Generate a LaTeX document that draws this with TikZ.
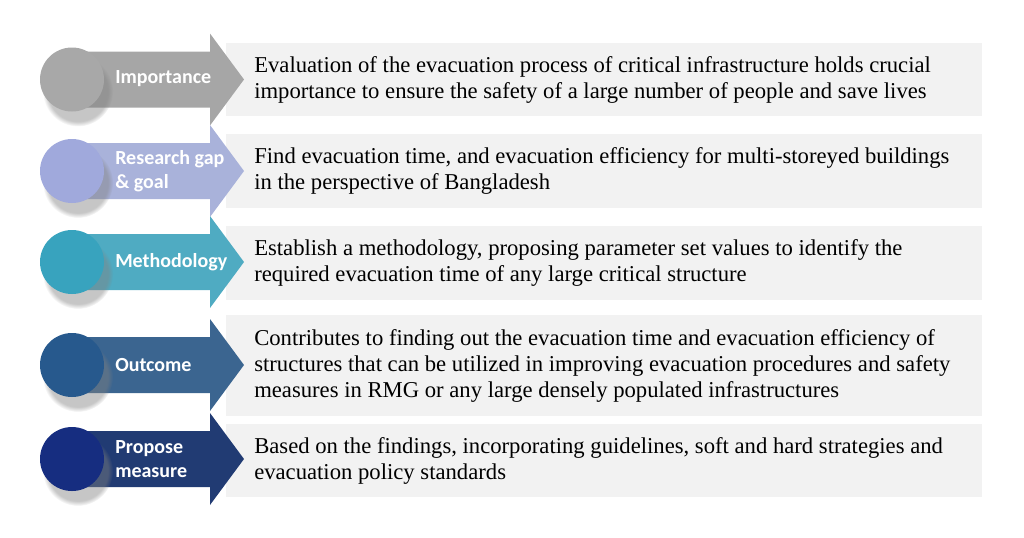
\documentclass[tikz,border=0pt]{standalone}
\usepackage{fontspec}
\setmainfont{Liberation Serif}
\newfontfamily\bodyfont{Liberation Serif}
\newfontfamily\tagfont{Carlito}
\usetikzlibrary{positioning,shadows,calc}

\definecolor{boxgray}{HTML}{F2F2F2}
\definecolor{arrow1}{HTML}{A6A6A6}
\definecolor{arrow2}{HTML}{A9B2DA}
\definecolor{arrow3}{HTML}{4FABC2}
\definecolor{arrow4}{HTML}{3B6590}
\definecolor{arrow5}{HTML}{213B73}
\definecolor{ballin1}{HTML}{A8A8A8}
\definecolor{ballout1}{HTML}{DADADA}
\definecolor{ballin2}{HTML}{A0A9DC}
\definecolor{ballout2}{HTML}{CDD3F2}
\definecolor{ballin3}{HTML}{38A3BE}
\definecolor{ballout3}{HTML}{74E2F6}
\definecolor{ballin4}{HTML}{27598D}
\definecolor{ballout4}{HTML}{4F86BE}
\definecolor{ballin5}{HTML}{162D80}
\definecolor{ballout5}{HTML}{3252A6}
\colorlet{ballin}{ballin1}
\colorlet{ballout}{ballout1}

\pgfdeclareradialshading[ballin,ballout]{glow}{\pgfpoint{0bp}{0bp}}{color(0bp)=(ballin); color(34bp)=(ballin); color(50bp)=(ballout)}

\begin{document}
\begin{tikzpicture}
  [
      x=0.75pt, y=-0.75pt,
      infobox/.style={fill=boxgray, minimum width=567pt, minimum height=#1, inner sep=0pt, anchor=west},
      infotext/.style={font=\bodyfont\fontsize{17}{19.5}\selectfont, align=left, inner sep=0pt, anchor=west},
      ball/.style={circle, minimum size=48pt, inner sep=0pt, shading=glow,
        circular drop shadow={shadow xshift=4pt, shadow yshift=-8pt, opacity=.45}},
      tag/.style={font=\tagfont\bfseries\fontsize{15}{18}\selectfont, text=white, align=left, inner sep=0pt, anchor=west},
    ]
    \useasboundingbox (0,0) rectangle (1024,537);

    \foreach \i/\c/\h/\txt in {
      1/79.5/54.75pt/{Evaluation of the evacuation process of critical infrastructure holds crucial\\importance to ensure the safety of a large number of people and save lives},
      2/171/55.5pt/{Find evacuation time, and evacuation efficiency for multi-storeyed buildings\\in the perspective of Bangladesh},
      3/263/55.5pt/{Establish a methodology, proposing parameter set values to identify the\\required evacuation time of any large critical structure},
      4/365.5/75.75pt/{Contributes to finding out the evacuation time and evacuation efficiency of\\structures that can be utilized in improving evacuation procedures and safety\\measures in RMG or any large densely populated infrastructures},
      5/460.5/54.75pt/{Based on the findings, incorporating guidelines, soft and hard strategies and\\evacuation policy standards}}
    {
      \node (box\i) [infobox=\h] at (226,\c) {};
      \node (txt\i) [infotext, right=21pt of box\i.west] {\txt};
    }

    \foreach \i/\c in {1/79.5,2/171,3/262,4/365,5/459}
    {
      \colorlet{ballin}{ballin\i}
      \colorlet{ballout}{ballout\i}
      \fill [arrow\i] (72,\c-28) -- (210,\c-28) -- (210,\c-46) -- (244,\c)
        -- (210,\c+46) -- (210,\c+28) -- (72,\c+28) -- cycle;
      \node (ball\i) [ball] at (72,\c) {};
    }

    \node (tag1) [tag] at (115,79) {Importance};
    \node (tag2) [tag] at (115,171) {Research gap\\\& goal};
    \node (tag3) [tag] at (115,262) {Methodology};
    \node (tag4) [tag] at (115,365) {Outcome};
    \node (tag5) [tag] at (115,459) {Propose\\measure};
  \end{tikzpicture}
\end{document}
